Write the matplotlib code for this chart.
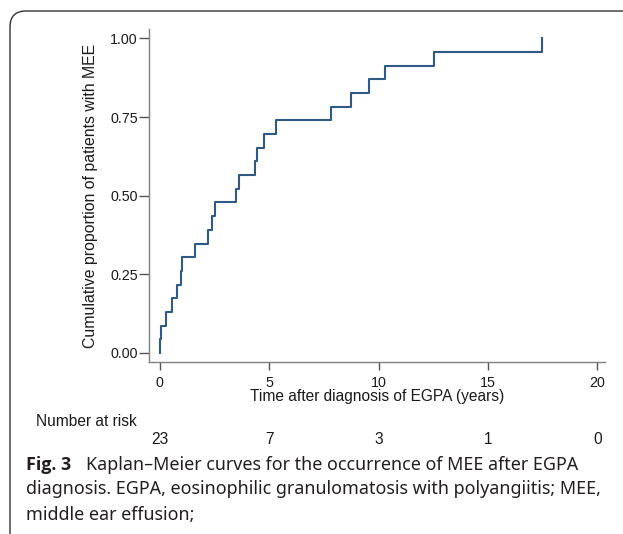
import numpy as np
import matplotlib
matplotlib.use("Agg")
import matplotlib.pyplot as plt
from matplotlib.patches import FancyBboxPatch
from matplotlib.transforms import IdentityTransform, blended_transform_factory

# ---- data ----
event_times = [0.0, 0.05, 0.30, 0.56, 0.80, 0.95, 1.00, 1.59, 2.20, 2.38, 2.52,
               3.47, 3.61, 4.36, 4.45, 4.77, 5.30, 7.84, 8.74, 9.55, 10.28,
               12.51, 17.49]
n_patients = 23
risk_times = [0, 5, 10, 15, 20]
risk_counts = [23, 7, 3, 1, 0]
x_ticks = [0, 5, 10, 15, 20]
y_ticks = [0.0, 0.25, 0.50, 0.75, 1.00]
y_tick_labels = ["0.00", "0.25", "0.50", "0.75", "1.00"]

# Kaplan-Meier cumulative incidence (no censoring)
surv = 1.0
xs, ys = [0.0], [0.0]
at_risk = n_patients
for t in event_times:
    surv *= (1 - 1 / at_risk)
    at_risk -= 1
    xs.append(t)
    ys.append(1 - surv)

W, H = 623, 534
fig = plt.figure(figsize=(W / 100, H / 100), dpi=100)
fig.patch.set_facecolor("white")

def fy(py):
    return 1 - py / H

ax = fig.add_axes([149 / W, fy(362), (605 - 149) / W, (362 - 29) / H])
ax.plot(xs, ys, drawstyle="steps-post", color="#2f5a85", lw=1.5)
ax.set_xlim(-0.5, 20.35)
ax.set_ylim(-0.029, 1.03)
for s in ["top", "right"]:
    ax.spines[s].set_visible(False)
for s in ["left", "bottom"]:
    ax.spines[s].set_color("#808080")
    ax.spines[s].set_linewidth(1.0)

afont = "Liberation Sans"
tc = "#1a1a1a"
ax.set_xticks(x_ticks)
ax.set_xticklabels([str(v) for v in x_ticks], fontsize=10.3, family=afont, color=tc)
ax.set_yticks(y_ticks)
ax.set_yticklabels(y_tick_labels, fontsize=10.3, family=afont, color=tc)
ax.tick_params(axis="both", direction="out", width=1, color="#555555")
ax.tick_params(axis="x", length=6, pad=4)
ax.tick_params(axis="y", length=7, pad=1)
ax.set_xlabel("Time after diagnosis of EGPA (years)", fontsize=11.2, family=afont,
              color=tc, labelpad=-1)
ax.set_ylabel("Cumulative proportion of patients with MEE", fontsize=11.4,
              family=afont, color=tc, labelpad=9)

# number at risk
fig.text(36 / W, fy(425.7), "Number at risk", fontsize=11.2, family=afont,
         color=tc, ha="left", va="baseline")
tr = blended_transform_factory(ax.transData, fig.transFigure)
for t, n in zip(risk_times, risk_counts):
    ax.text(t, fy(444), str(n), transform=tr, fontsize=11.2, family=afont,
            color=tc, ha="center", va="baseline", clip_on=False)

# caption
cfont = "Noto Sans"
cc = "#231f20"
cs = 12.9
fig.text(26 / W, fy(469.5), "Fig. 3", fontsize=12.9, family="Open Sans",
         weight="bold", color=cc, ha="left", va="baseline")
fig.text(86 / W, fy(469.5), "Kaplan\u2013Meier curves for the occurrence of MEE after EGPA",
         fontsize=cs, family=cfont, color=cc, ha="left", va="baseline")
fig.text(26 / W, fy(494.5),
         "diagnosis. EGPA, eosinophilic granulomatosis with polyangiitis; MEE,",
         fontsize=cs, family=cfont, color=cc, ha="left", va="baseline")
fig.text(26 / W, fy(519.5), "middle ear effusion;", fontsize=cs,
         family=cfont, color=cc, ha="left", va="baseline")

# card frame (rounded top-left corner)
frame = FancyBboxPatch((10, -40), 700, (H - 11) + 40,
                       boxstyle="round,pad=0,rounding_size=16",
                       transform=IdentityTransform(), facecolor="none",
                       edgecolor="#333333", lw=1.0)
fig.patches.append(frame)

fig.savefig("out.png", dpi=100, facecolor="white")
